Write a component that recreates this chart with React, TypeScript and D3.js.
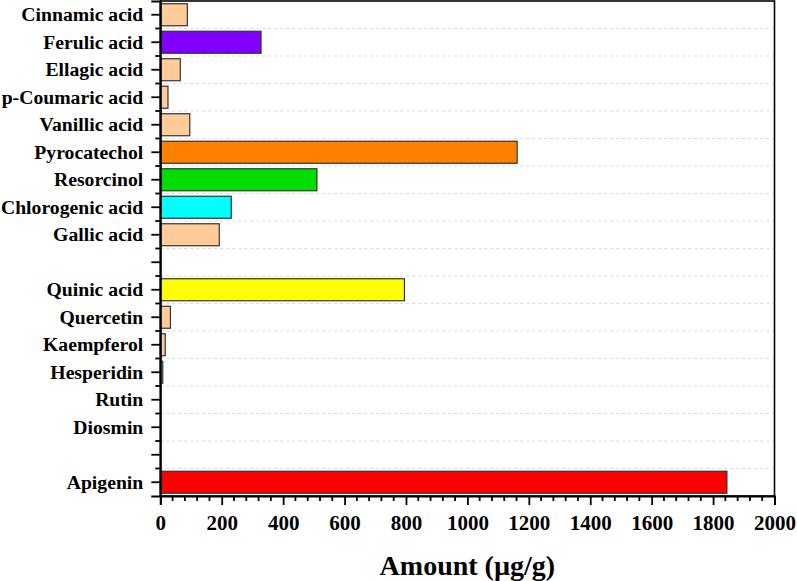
import * as d3 from "d3";
import { useEffect, useRef } from "react";

// categories top to bottom, blank slots are spacers between groups
const categories = [
  "Cinnamic acid",
  "Ferulic acid",
  "Ellagic acid",
  "p-Coumaric acid",
  "Vanillic acid",
  "Pyrocatechol",
  "Resorcinol",
  "Chlorogenic acid",
  "Gallic acid",
  "",
  "Quinic acid",
  "Quercetin",
  "Kaempferol",
  "Hesperidin",
  "Rutin",
  "Diosmin",
  "",
  "Apigenin",
];
const values = [88, 328, 65, 25, 96, 1162, 510, 231, 192, null, 795, 33, 16, 8, 0, 0, null, 1845];
const barColors = [
  "#FFCC99", "#8000FF", "#FFCC99", "#FFCC99", "#FFCC99", "#FF8000", "#00DD00", "#00FFFF", "#FFCC99",
  null, "#FFFF00", "#FFCC99", "#FFCC99", "#FFCC99", "#FFCC99", "#FFCC99", null, "#FF0000",
];
const xTicks = [0, 200, 400, 600, 800, 1000, 1200, 1400, 1600, 1800, 2000];
const xTitle = "Amount (µg/g)";

const W = 797;
const H = 581;
const margin = { left: 160.3, right: 22.5, top: 1, bottom: 85 };
const FONT = '"Liberation Serif", "Times New Roman", "DejaVu Serif", serif';

export default function App() {
  const svgRef = useRef<SVGSVGElement>(null);

  useEffect(() => {
    const width = W - margin.left - margin.right;
    const height = H - margin.top - margin.bottom;
    const keys = categories.map((c, i) => `${i}`);

    const svgEl = d3.select(svgRef.current);
    svgEl.selectAll("*").remove();
    const svg = svgEl.append("g").attr("transform", `translate(${margin.left},${margin.top})`);

    const x = d3.scaleLinear().domain([0, 2000]).range([0, width]);
    const y = d3.scaleBand().domain(keys).range([0, height]).paddingInner(0.2).paddingOuter(0.1);
    const step = y.step();

    // dashed grid at category boundaries
    const bounds = d3.range(1, categories.length).map((i) => i * step);
    svg
      .selectAll(".grid")
      .data(bounds)
      .join("line")
      .attr("x1", 0)
      .attr("x2", width)
      .attr("y1", (d) => d)
      .attr("y2", (d) => d)
      .attr("stroke", "#cfcfcf")
      .attr("stroke-width", 0.8)
      .attr("stroke-dasharray", "3,3");

    // bars
    const rows = categories.map((c, i) => ({ key: keys[i], value: values[i], color: barColors[i] }));
    svg
      .selectAll(".bar")
      .data(rows.filter((r) => r.value))
      .join("rect")
      .attr("x", x(0))
      .attr("y", (d) => y(d.key))
      .attr("width", (d) => x(d.value) - x(0))
      .attr("height", y.bandwidth())
      .attr("fill", (d) => d.color)
      .attr("stroke", "#333")
      .attr("stroke-width", 1.2);

    // frame
    svg
      .append("rect")
      .attr("x", 0)
      .attr("y", 0)
      .attr("width", width)
      .attr("height", height)
      .attr("fill", "none")
      .attr("stroke", "#000")
      .attr("stroke-width", 1.6);

    // y axis: major ticks at centres, minor at boundaries
    const yAxis = d3
      .axisLeft(y)
      .tickSize(9)
      .tickPadding(8)
      .tickFormat((k) => categories[+k]);
    const yg = svg.append("g").call(yAxis);
    yg.attr("font-family", null);
    yg.select(".domain").attr("stroke-width", 2);
    yg.selectAll("line").attr("stroke-width", 1.8);
    yg.selectAll("text")
      .style("font-family", FONT)
      .style("font-weight", "bold")
      .style("font-size", "19.7px")
      .attr("fill", "#000");
    svg
      .selectAll(".yminor")
      .data(bounds)
      .join("line")
      .attr("x1", -5)
      .attr("x2", 0)
      .attr("y1", (d) => d)
      .attr("y2", (d) => d)
      .attr("stroke", "#000")
      .attr("stroke-width", 1.8);

    // x axis
    const xAxis = d3.axisBottom(x).tickValues(xTicks).tickSize(9).tickPadding(10).tickFormat(d3.format("d"));
    const xg = svg.append("g").attr("transform", `translate(0,${height})`).call(xAxis);
    xg.attr("font-family", null);
    xg.select(".domain").attr("stroke-width", 2);
    xg.selectAll("line").attr("stroke-width", 1.8);
    xg.selectAll("text")
      .style("font-family", FONT)
      .style("font-weight", "bold")
      .style("font-size", "21px")
      .attr("fill", "#000");
    const minor = d3.range(0, 2001, 40).filter((v) => v % 200 !== 0);
    svg
      .selectAll(".xminor")
      .data(minor)
      .join("line")
      .attr("x1", (d) => x(d))
      .attr("x2", (d) => x(d))
      .attr("y1", height)
      .attr("y2", height + 5)
      .attr("stroke", "#000")
      .attr("stroke-width", 1.8);

    svg
      .append("text")
      .attr("x", width / 2)
      .attr("y", height + 79)
      .attr("text-anchor", "middle")
      .style("font-family", FONT)
      .style("font-weight", "bold")
      .style("font-size", "28px")
      .text(xTitle);
  }, []);

  return (
    <svg
      ref={svgRef}
      width={W}
      height={H}
      style={{ position: "absolute", left: 0, top: 0, background: "#fff" }}
    ></svg>
  );
}
